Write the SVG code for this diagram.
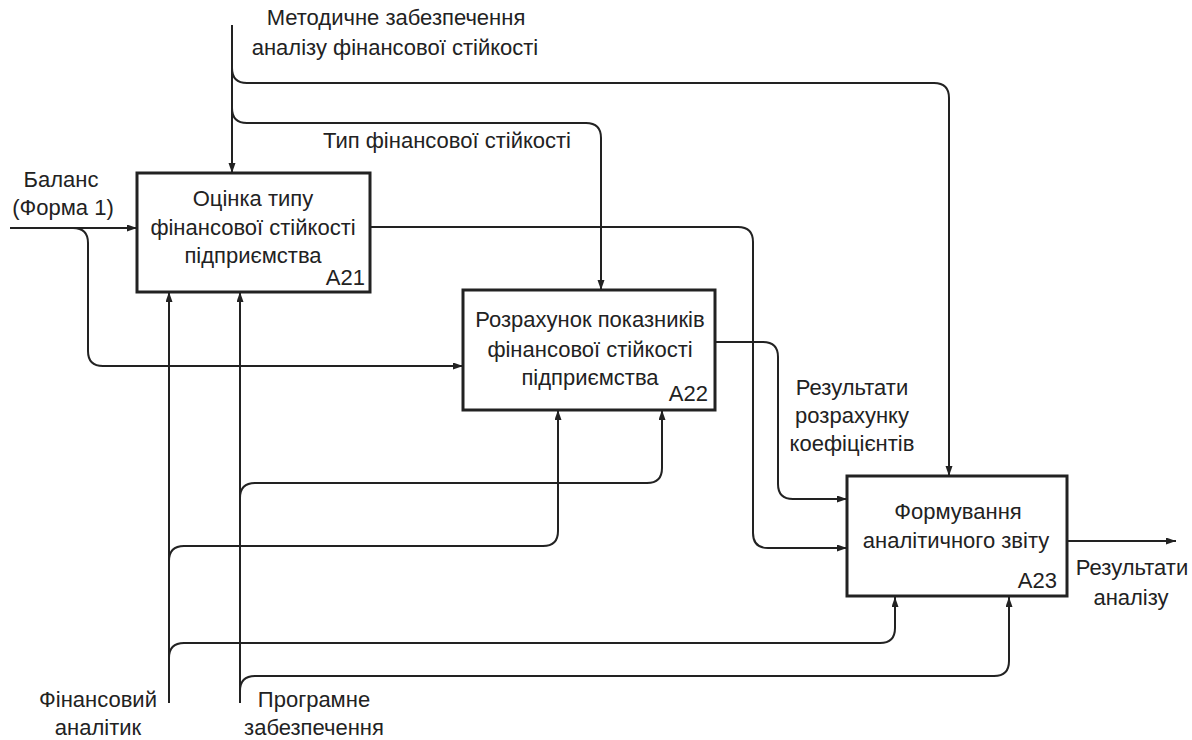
<svg xmlns="http://www.w3.org/2000/svg" width="1192" height="740" viewBox="0 0 1192 740">
  <style>
    .box { fill: #ffffff; stroke: #222222; stroke-width: 3; }
    .conn { fill: none; stroke: #222222; stroke-width: 2; }
    text { font-family: "Liberation Sans", Arial, sans-serif; font-size: 22px; fill: #222222; }
    .c { text-anchor: middle; }
    .r { text-anchor: end; }
  </style>
  <defs>
    <marker id="arrow" markerWidth="11" markerHeight="8" refX="10" refY="3.5" orient="auto" markerUnits="userSpaceOnUse">
      <path d="M0,0 L10,3.5 L0,7 z" fill="#222222"/>
    </marker>
  </defs>
  <rect width="1192" height="740" fill="#ffffff"/>

  <g id="connectors">
    <path class="conn" d="M232,25 V173" marker-end="url(#arrow)"/>
    <path class="conn" d="M232,68 Q232,83 247,83 H934 Q949,83 949,98 V476" marker-end="url(#arrow)"/>
    <path class="conn" d="M232,108 Q232,123 247,123 H586 Q601,123 601,138 V290" marker-end="url(#arrow)"/>
    <path class="conn" d="M10,228 H137" marker-end="url(#arrow)"/>
    <path class="conn" d="M72,228 H73 Q88,228 88,243 V351 Q88,366 103,366 H463" marker-end="url(#arrow)"/>
    <path class="conn" d="M370,227 H738 Q753,227 753,242 V533 Q753,548 768,548 H847" marker-end="url(#arrow)"/>
    <path class="conn" d="M715,342 H763 Q778,342 778,357 V484 Q778,499 793,499 H847" marker-end="url(#arrow)"/>
    <path class="conn" d="M1067,541 H1176" marker-end="url(#arrow)"/>
    <path class="conn" d="M169,703 V292" marker-end="url(#arrow)"/>
    <path class="conn" d="M240,703 V292" marker-end="url(#arrow)"/>
    <path class="conn" d="M169,561 Q169,546 184,546 H543 Q558,546 558,531 V410" marker-end="url(#arrow)"/>
    <path class="conn" d="M240,498 Q240,483 255,483 H647 Q662,483 662,468 V410" marker-end="url(#arrow)"/>
    <path class="conn" d="M169,658 Q169,643 184,643 H880 Q895,643 895,628 V597" marker-end="url(#arrow)"/>
    <path class="conn" d="M240,691 Q240,676 255,676 H994 Q1009,676 1009,661 V597" marker-end="url(#arrow)"/>
  </g>

  <g id="labels">
    <text class="c" x="396" y="25">Методичне забезпечення</text>
    <text class="c" x="395" y="55">аналізу фінансової стійкості</text>
    <text class="c" x="447" y="148">Тип фінансової стійкості</text>
    <text class="c" x="61" y="187">Баланс</text>
    <text class="c" x="63" y="215">(Форма 1)</text>
    <text class="c" x="852" y="395">Результати</text>
    <text class="c" x="852" y="423">розрахунку</text>
    <text class="c" x="852" y="451">коефіцієнтів</text>
    <text class="c" x="1132" y="575">Результати</text>
    <text class="c" x="1131" y="605">аналізу</text>
    <text class="c" x="98" y="707">Фінансовий</text>
    <text class="c" x="98" y="735">аналітик</text>
    <text class="c" x="314" y="707">Програмне</text>
    <text class="c" x="314" y="735">забезпечення</text>
  </g>

  <g id="A21">
    <rect class="box" x="137" y="173" width="233" height="119"/>
    <text class="c" x="253" y="206">Оцінка типу</text>
    <text class="c" x="253" y="235">фінансової стійкості</text>
    <text class="c" x="253" y="263">підприємства</text>
    <text class="r" x="365" y="285">A21</text>
  </g>

  <g id="A22">
    <rect class="box" x="463" y="290" width="252" height="120"/>
    <text class="c" x="590" y="327">Розрахунок показників</text>
    <text class="c" x="590" y="357">фінансової стійкості</text>
    <text class="c" x="590" y="385">підприємства</text>
    <text class="r" x="708" y="401">A22</text>
  </g>

  <g id="A23">
    <rect class="box" x="847" y="476" width="220" height="120"/>
    <text class="c" x="958" y="519">Формування</text>
    <text class="c" x="956" y="548">аналітичного звіту</text>
    <text class="r" x="1057" y="588">A23</text>
  </g>
</svg>
